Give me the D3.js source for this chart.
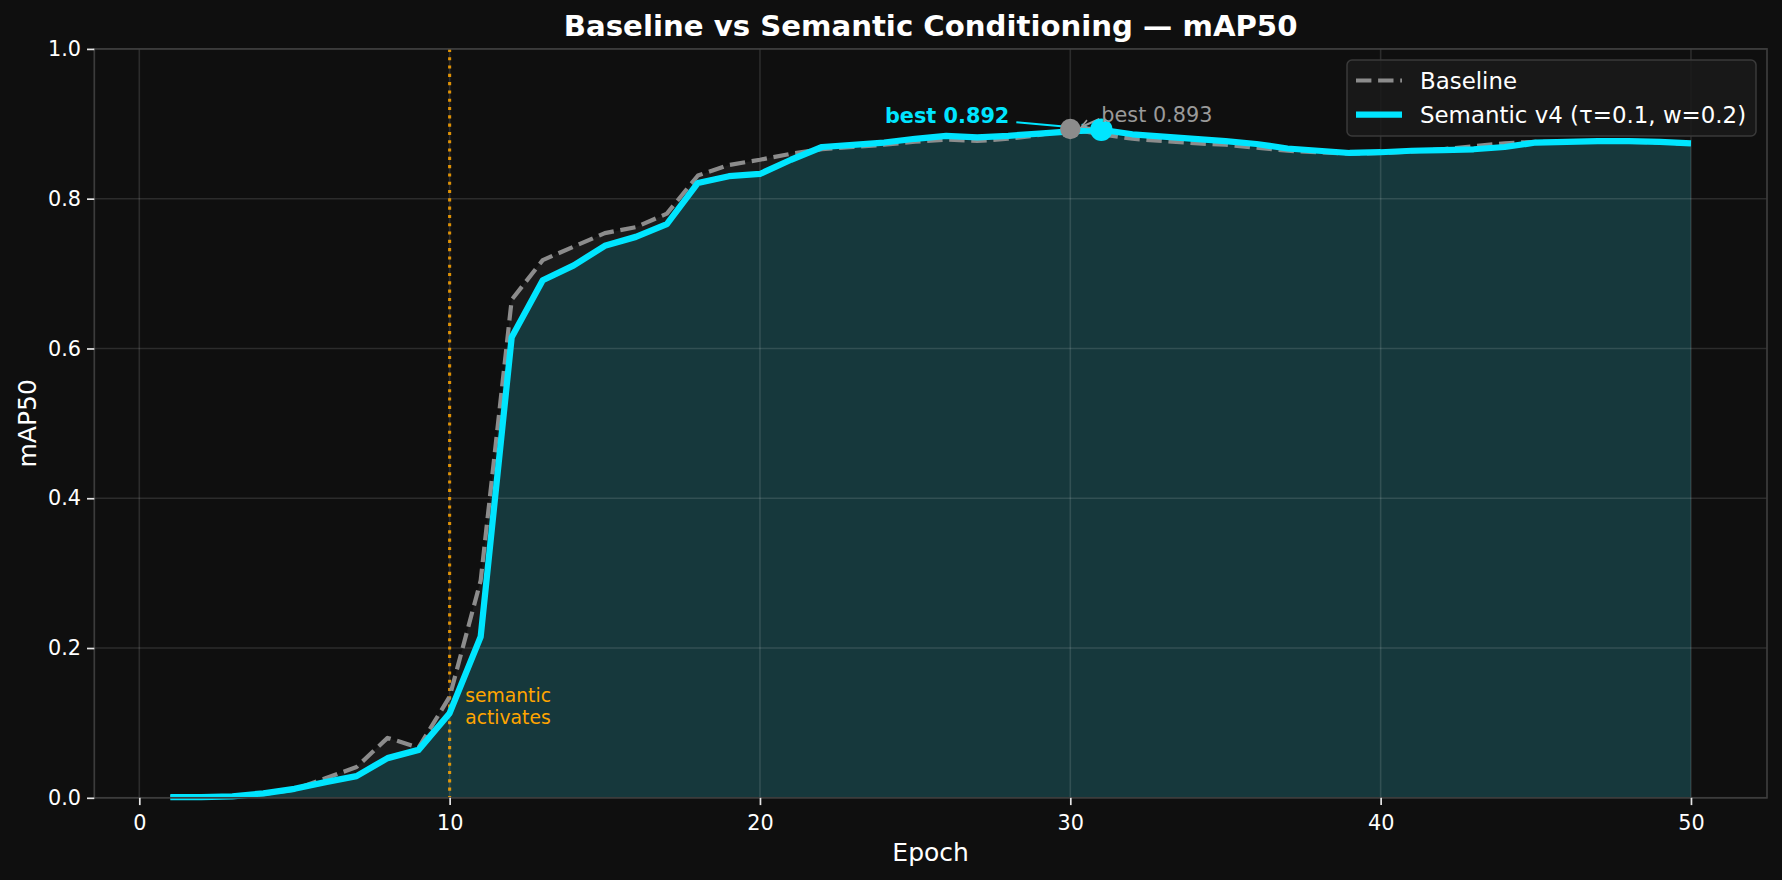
<!DOCTYPE html>
<html>
<head>
<meta charset="utf-8">
<script src="https://cdn.jsdelivr.net/npm/d3@7"></script>
<style>
  html, body { margin: 0; padding: 0; background: #0f0f0f; }
  svg { display: block; }
  text { font-family: "DejaVu Sans", sans-serif; }
</style>
</head>
<body>
<script>
// ---- data ----
const epochs = [1,2,3,4,5,6,7,8,9,10,11,12,13,14,15,16,17,18,19,20,21,22,23,24,25,26,27,28,29,30,31,32,33,34,35,36,37,38,39,40,41,42,43,44,45,46,47,48,49,50];
const baseline = [0.001,0.001,0.002,0.005,0.011,0.026,0.041,0.080,0.067,0.135,
                  0.290,0.665,0.718,0.736,0.754,0.762,0.780,0.831,0.845,0.852,
                  0.860,0.866,0.869,0.872,0.876,0.879,0.877,0.880,0.885,0.893,
                  0.886,0.880,0.877,0.874,0.872,0.868,0.864,0.862,0.860,0.861,
                  0.863,0.866,0.870,0.874,0.876,0.876,0.876,0.876,0.875,0.873];
const semantic = [0.001,0.001,0.002,0.006,0.012,0.021,0.029,0.053,0.064,0.113,
                  0.215,0.615,0.691,0.711,0.737,0.749,0.766,0.821,0.830,0.833,
                  0.852,0.869,0.872,0.875,0.880,0.884,0.882,0.884,0.887,0.890,
                  0.892,0.886,0.883,0.880,0.877,0.873,0.867,0.864,0.861,0.862,
                  0.864,0.865,0.866,0.869,0.875,0.876,0.877,0.877,0.876,0.874];
const xTicks = [0,10,20,30,40,50];
const yTicks = [0.0,0.2,0.4,0.6,0.8,1.0];
const seriesNames = ["Baseline", "Semantic v4 (τ=0.1, w=0.2)"];
const activationEpoch = 10;
const bestBaseline = {epoch: 30, value: 0.893};
const bestSemantic = {epoch: 31, value: 0.892};

// ---- layout ----
const W = 1782, H = 880;
const m = {left: 94.3, right: W - 1767, top: 48.9, bottom: H - 797.8};
const iw = W - m.left - m.right, ih = H - m.top - m.bottom;

const svg = d3.select("body").append("svg").attr("width", W).attr("height", H);
svg.append("rect").attr("width", W).attr("height", H).attr("fill", "#0f0f0f");

const x = d3.scaleLinear().domain([-1.45, 52.45]).range([m.left, m.left + iw]);
const y = d3.scaleLinear().domain([0, 1]).range([m.top + ih, m.top]);

const g = svg.append("g");
const bData = epochs.map((e, i) => ({e, v: baseline[i]}));
const sData = epochs.map((e, i) => ({e, v: semantic[i]}));

// fills
const area = d3.area().x(d => x(d.e)).y0(y(0)).y1(d => y(d.v));
g.append("path").datum(bData).attr("d", area).attr("fill", "#808080").attr("fill-opacity", 0.1);
g.append("path").datum(sData).attr("d", area).attr("fill", "#00e5ff").attr("fill-opacity", 0.15);

// grid
const grid = g.append("g").attr("stroke", "#ffffff").attr("stroke-opacity", 0.12).attr("stroke-width", 1.6);
xTicks.forEach(t => grid.append("line").attr("x1", x(t)).attr("x2", x(t)).attr("y1", m.top).attr("y2", m.top + ih));
yTicks.forEach(t => grid.append("line").attr("y1", y(t)).attr("y2", y(t)).attr("x1", m.left).attr("x2", m.left + iw));

// activation line
g.append("line")
  .attr("x1", x(activationEpoch)).attr("x2", x(activationEpoch))
  .attr("y1", m.top).attr("y2", m.top + ih)
  .attr("stroke", "#ffa500").attr("stroke-opacity", 0.85)
  .attr("stroke-width", 3.1).attr("stroke-dasharray", "3.1,5.2");
const act = g.append("text").attr("fill", "#ffa500").attr("font-size", 18.75);
act.append("tspan").attr("x", x(activationEpoch + 0.5)).attr("y", y(0.1) - 21).text("semantic");
act.append("tspan").attr("x", x(activationEpoch + 0.5)).attr("y", y(0.1) + 1).text("activates");

// lines
const line = d3.line().x(d => x(d.e)).y(d => y(d.v));
g.append("path").datum(bData).attr("d", line).attr("fill", "none")
  .attr("stroke", "#8c8c8c").attr("stroke-width", 4.2).attr("stroke-dasharray", "15.4,6.7")
  .attr("stroke-linejoin", "round");
g.append("path").datum(sData).attr("d", line).attr("fill", "none")
  .attr("stroke", "#00e5ff").attr("stroke-width", 6.25).attr("stroke-linejoin", "round");

// spines
const spine = g.append("rect").attr("x", m.left).attr("y", m.top).attr("width", iw).attr("height", ih)
  .attr("fill", "none").attr("stroke", "#3c3c3c").attr("stroke-width", 1.7);

// axes
const xAxis = d3.axisBottom(x).tickValues(xTicks).tickFormat(d3.format("d")).tickSize(7.3).tickPadding(5);
const yAxis = d3.axisLeft(y).tickValues(yTicks).tickFormat(d3.format(".1f")).tickSize(7.3).tickPadding(6);
const gx = svg.append("g").attr("transform", `translate(0,${m.top + ih})`).call(xAxis);
const gy = svg.append("g").attr("transform", `translate(${m.left},0)`).call(yAxis);
[gx, gy].forEach(a => {
  a.select(".domain").remove();
  a.selectAll(".tick line").attr("stroke", "#e6e6e6").attr("stroke-width", 1.7);
  a.selectAll(".tick text").attr("fill", "#ffffff").attr("font-size", 20.8).attr("font-family", "DejaVu Sans");
});
gx.selectAll(".tick text").attr("dy", "0.95em");

// axis labels & title
svg.append("text").attr("x", m.left + iw / 2).attr("y", 860.5).attr("text-anchor", "middle")
  .attr("fill", "#ffffff").attr("font-size", 25).text("Epoch");
svg.append("text").attr("transform", `translate(36,${m.top + ih / 2}) rotate(-90)`).attr("text-anchor", "middle")
  .attr("fill", "#ffffff").attr("font-size", 25).text("mAP50");
svg.append("text").attr("x", m.left + iw / 2).attr("y", 36).attr("text-anchor", "middle")
  .attr("fill", "#ffffff").attr("font-size", 29.2).attr("font-weight", "bold")
  .text("Baseline vs Semantic Conditioning — mAP50");

// best annotations
const defs = svg.append("defs");
function arrowHead(id, color) {
  defs.append("marker").attr("id", id).attr("viewBox", "0 0 10 10").attr("refX", 9).attr("refY", 5)
    .attr("markerWidth", 5).attr("markerHeight", 5).attr("markerUnits", "strokeWidth").attr("orient", "auto")
    .append("path").attr("d", "M1,1 L9,5 L1,9").attr("fill", "none").attr("stroke", color).attr("stroke-width", 1.6);
}
arrowHead("ahGrey", "#9a9a9a");
arrowHead("ahCyan", "#00e5ff");

const bx = x(bestBaseline.epoch), by = y(bestBaseline.value);
const sx = x(bestSemantic.epoch), sy = y(bestSemantic.value);

g.append("line").attr("x1", sx - 85).attr("y1", sy - 7.5).attr("x2", sx - 12).attr("y2", sy - 1)
  .attr("stroke", "#00e5ff").attr("stroke-width", 2).attr("marker-end", "url(#ahCyan)");
g.append("circle").attr("cx", bx).attr("cy", by).attr("r", 10.2).attr("fill", "#8c8c8c");
g.append("line").attr("x1", bx + 29).attr("y1", by - 10).attr("x2", bx + 11).attr("y2", by - 2)
  .attr("stroke", "#9a9a9a").attr("stroke-width", 2).attr("marker-end", "url(#ahGrey)");
g.append("circle").attr("cx", sx).attr("cy", sy).attr("r", 11.2).attr("fill", "#00e5ff");

g.append("text").attr("x", sx - 92).attr("y", sy - 7).attr("text-anchor", "end")
  .attr("fill", "#00e5ff").attr("font-size", 20.8).attr("font-weight", "bold").text("best 0.892");
g.append("text").attr("x", bx + 31).attr("y", by - 7)
  .attr("fill", "#9a9a9a").attr("font-size", 20.8).text("best 0.893");

// legend
const lg = svg.append("g");
lg.append("rect").attr("x", 1347).attr("y", 60).attr("width", 409).attr("height", 76).attr("rx", 5)
  .attr("fill", "#1a1a1a").attr("fill-opacity", 0.85).attr("stroke", "#3a3a3a").attr("stroke-width", 1.5);
const rows = [
  {name: seriesNames[0], stroke: "#8c8c8c", w: 4.2, dash: "15.4,6.7", cy: 80.5},
  {name: seriesNames[1], stroke: "#00e5ff", w: 6.25, dash: null, cy: 114.5}
];
rows.forEach(r => {
  lg.append("line").attr("x1", 1356).attr("x2", 1402).attr("y1", r.cy).attr("y2", r.cy)
    .attr("stroke", r.stroke).attr("stroke-width", r.w).attr("stroke-dasharray", r.dash);
  lg.append("text").attr("x", 1420).attr("y", r.cy).attr("dy", "0.36em")
    .attr("fill", "#ffffff").attr("font-size", 22.9).text(r.name);
});
</script>
</body>
</html>
